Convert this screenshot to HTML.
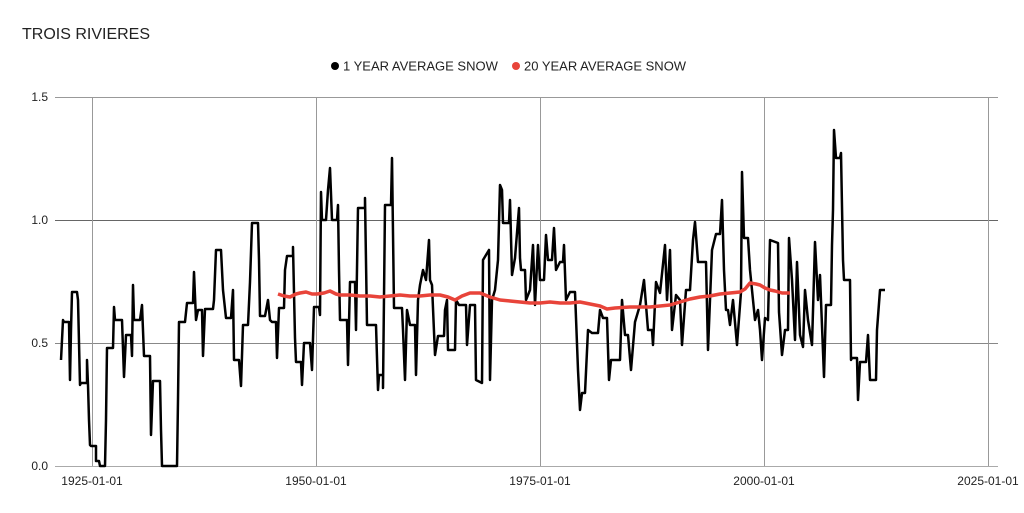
<!DOCTYPE html>
<html><head><meta charset="utf-8"><style>
html,body{margin:0;padding:0;background:#fff;}
svg{display:block;font-family:"Liberation Sans",Arial,sans-serif;}
</style></head><body>
<svg width="1024" height="513" viewBox="0 0 1024 513">
<text x="22" y="39" font-size="16" fill="#222">TROIS RIVIERES</text>
<circle cx="335" cy="66" r="4" fill="#000"/>
<text x="343" y="70.5" font-size="13" fill="#222">1 YEAR AVERAGE SNOW</text>
<circle cx="516" cy="66" r="4" fill="#e8443a"/>
<text x="524" y="70.5" font-size="13" fill="#222">20 YEAR AVERAGE SNOW</text>
<g stroke="#999" stroke-width="1">
<line x1="55" y1="97.5" x2="998" y2="97.5"/>
<line x1="55" y1="220.5" x2="998" y2="220.5" stroke="#666"/>
<line x1="55" y1="343.5" x2="998" y2="343.5" stroke="#888"/>
<line x1="92.5" y1="97" x2="92.5" y2="466"/>
<line x1="316.5" y1="97" x2="316.5" y2="466"/>
<line x1="540.5" y1="97" x2="540.5" y2="466"/>
<line x1="764.5" y1="97" x2="764.5" y2="466"/>
<line x1="988.5" y1="97" x2="988.5" y2="466"/>
<line x1="55" y1="466.5" x2="998" y2="466.5" stroke="#aaa"/>
</g>
<g font-size="12" fill="#222" text-anchor="end">
<text x="48" y="101">1.5</text><text x="48" y="224">1.0</text><text x="48" y="347">0.5</text><text x="48" y="470">0.0</text>
</g>
<g font-size="12" fill="#222" text-anchor="middle">
<text x="92" y="485">1925-01-01</text><text x="316" y="485">1950-01-01</text><text x="540" y="485">1975-01-01</text><text x="764" y="485">2000-01-01</text><text x="988" y="485">2025-01-01</text>
</g>
<polyline fill="none" stroke="#000" stroke-width="2.5" stroke-linejoin="round" points="
61,360 62,340 63,320 64,322 67,322 69,322 70,380 71,330 72,292 77,292 78,300 80,385 81,383 87,383 87,360 88,385 89,420 90,445 91,446 96,446 96,461 99,461 100,466 105,466 106,420 107,348 113,348 114,307 115,320 122,320 124,377 126,335 131,335 132,356 133,285 134,320 140,320 142,305 144,356 150,356 151,435 153,381 160,381 161,430 162,466 177,466 178,400 179,322 185,322 187,303 193,303 194,272 196,320 198,310 202,310 203,356 205,309 213,309 214,300 216,250 221,250 223,290 226,318 231,318 233,290 234,360 239,360 241,386 243,325 248,325 250,282 252,223 258,223 259,260 260,316 265,316 268,300 270,320 272,322 276,322 277,358 279,308 284,308 285,270 287,256 293,256 293,247 295,338 296,362 301,362 302,385 304,343 310,343 312,370 314,307 319,307 320,315 321,192 322,220 326,220 328,190 330,168 332,220 337,220 338,205 339,270 340,320 347,320 348,365 350,282 355,282 356,330 358,208 365,208 365,198 367,325 376,325 378,390 379,375 383,375 383,388 385,205 391,205 392,158 394,308 402,308 403,330 405,380 407,310 410,325 415,325 416,375 418,300 420,285 423,270 426,280 429,240 430,280 432,285 435,355 438,336 444,336 445,310 447,300 448,350 455,350 456,300 459,305 466,305 467,345 470,305 475,305 476,380 482,383 483,260 489,250 490,380 492,300 495,290 498,260 500,185 502,190 503,223 509,223 510,200 512,275 515,258 519,208 520,258 521,270 525,270 526,300 530,290 533,245 535,305 538,245 540,280 544,280 546,235 548,260 552,260 554,228 556,270 560,262 563,262 564,245 566,300 570,292 575,292 578,370 580,410 582,393 585,393 588,330 592,333 598,333 600,310 603,318 607,318 609,380 611,360 620,360 622,300 625,335 628,335 631,370 635,322 640,305 644,280 648,330 652,330 653,345 656,282 660,293 665,245 667,300 670,250 672,330 676,295 680,300 682,345 686,290 690,290 693,240 695,222 698,262 706,262 708,350 712,250 716,234 720,234 722,200 724,270 726,310 728,310 730,325 733,300 737,345 741,292 742,172 744,238 748,238 750,270 755,320 758,310 760,330 762,360 765,318 768,320 770,240 778,243 779,312 782,355 785,330 788,330 789,238 792,280 795,340 797,262 800,335 803,347 805,290 808,320 812,345 815,242 818,300 820,275 824,377 826,305 831,305 832,245 833,210 834,130 836,158 840,158 841,153 843,260 844,280 850,280 851,360 852,358 857,358 858,400 860,362 866,362 868,335 870,380 876,380 877,330 880,290 885,290"/>
<polyline fill="none" stroke="#e8443a" stroke-width="3.5" stroke-linejoin="round" points="
278,294 284,296 290,297 296,294 300,293 306,292 312,294 317,294 324,293 330,291 336,294 340,295 350,295 360,296 370,296 380,297 390,296 400,295 410,296 420,296 430,295 440,295 448,297 455,300 462,296 470,293 480,293 490,297 500,300 510,301 520,302 530,303 540,303 550,302 560,303 570,303 580,302 590,304 600,306 607,309 615,308 630,307 640,307 650,307 660,306 670,305 680,302 690,299 700,297 710,296 720,294 730,293 740,292 745,289 750,283 756,284 760,285 765,288 770,290 775,291 782,293 790,293"/>
</svg>
</body></html>
